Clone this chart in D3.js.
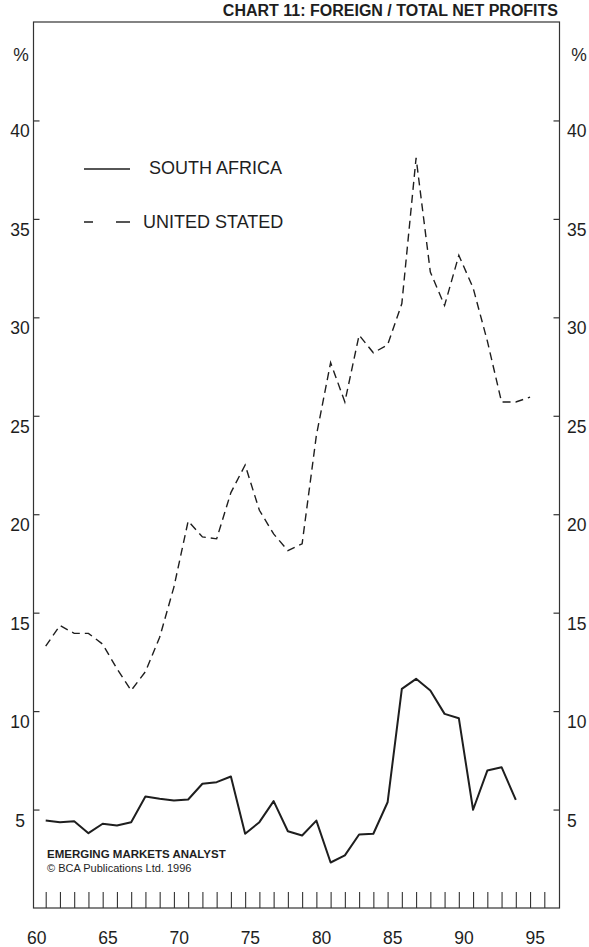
<!DOCTYPE html>
<html><head><meta charset="utf-8">
<script src="https://cdn.jsdelivr.net/npm/d3@7"></script>
<style>
body{margin:0;background:#fff}
svg{display:block}
text{font-family:"Liberation Sans",Arial,Helvetica,sans-serif;fill:#1e1e1e}
</style></head>
<body><svg id="chart" width="589" height="947"></svg>
<script>
// ---- data ----
const titleText = "CHART 11: FOREIGN / TOTAL NET PROFITS";
const seriesNames = ["SOUTH AFRICA", "UNITED STATED"];
const years = [1960,1961,1962,1963,1964,1965,1966,1967,1968,1969,
               1970,1971,1972,1973,1974,1975,1976,1977,1978,1979,
               1980,1981,1982,1983,1984,1985,1986,1987,1988,1989,
               1990,1991,1992,1993,1994];
const usValues = [13.3,14.35,13.95,13.95,13.4,12.15,11.05,12.0,13.75,16.3,
                  19.65,18.85,18.75,21.1,22.5,20.2,19.0,18.15,18.5,24.0,
                  27.7,25.7,29.1,28.2,28.6,30.7,38.1,32.3,30.6,33.15,
                  31.5,28.8,25.7,25.7,25.95];
const saValues = [4.44,4.36,4.41,3.80,4.28,4.19,4.36,5.66,5.55,5.46,
                  5.51,6.31,6.39,6.68,3.77,4.36,5.43,3.90,3.68,4.44,
                  2.31,2.67,3.73,3.77,5.37,11.13,11.64,11.05,9.86,9.64,
                  4.99,6.98,7.15,5.49];
const yTickValues = [5,10,15,20,25,30,35,40];
const xTickYears = [1960,1961,1962,1963,1964,1965,1966,1967,1968,1969,
                    1970,1971,1972,1973,1974,1975,1976,1977,1978,1979,
                    1980,1981,1982,1983,1984,1985,1986,1987,1988,1989,
                    1990,1991,1992,1993,1994,1995];
const xLabelYears = [1960,1965,1970,1975,1980,1985,1990,1995];
const unitLabel = "%";
const sourceLines = ["EMERGING MARKETS ANALYST", "\u00A9 BCA Publications Ltd. 1996"];

// ---- layout ----
const svg = d3.select("#chart");
const frame = {left: 33.5, right: 559.5, top: 22, bottom: 908};
const x = d3.scaleLinear().domain([1960, 1995]).range([45.7, 544.3]);
const y = d3.scaleLinear().domain([0, 45]).range([908, 22]);
const ink = "#1e1e1e";

// title (kept fully visible above the frame)
svg.append("text").attr("x", 558).attr("y", 16).attr("text-anchor", "end")
  .attr("font-size", 16).attr("font-weight", "bold").text(titleText);

// frame
svg.append("rect").attr("x", frame.left).attr("y", frame.top)
  .attr("width", frame.right - frame.left).attr("height", frame.bottom - frame.top)
  .attr("fill", "none").attr("stroke", "#333").attr("stroke-width", 1.2);

// left axis ticks (inward)
const leftAxis = svg.append("g").attr("transform", `translate(${frame.left},0)`)
  .call(d3.axisRight(y).tickValues(yTickValues).tickSize(6).tickFormat(""));
leftAxis.select(".domain").remove();
leftAxis.selectAll("line").attr("stroke", "#333").attr("stroke-width", 1.2);

// right axis ticks (inward)
const rightAxis = svg.append("g").attr("transform", `translate(${frame.right},0)`)
  .call(d3.axisLeft(y).tickValues(yTickValues).tickSize(6).tickFormat(""));
rightAxis.select(".domain").remove();
rightAxis.selectAll("line").attr("stroke", "#333").attr("stroke-width", 1.2);

// bottom axis ticks (upward)
const bottomAxis = svg.append("g").attr("transform", `translate(0,${frame.bottom})`)
  .call(d3.axisTop(x).tickValues(xTickYears).tickSize(16).tickFormat(""));
bottomAxis.select(".domain").remove();
bottomAxis.selectAll("line").attr("stroke", "#333").attr("stroke-width", 1.1);

// y labels
svg.selectAll(".ylabL").data(yTickValues).join("text").attr("class", "ylabL")
  .attr("x", 20).attr("y", d => y(d) + 17).attr("text-anchor", "middle")
  .attr("font-size", 17.5).text(d => d);
svg.selectAll(".ylabR").data(yTickValues).join("text").attr("class", "ylabR")
  .attr("x", 567).attr("y", d => y(d) + 17).attr("text-anchor", "start")
  .attr("font-size", 17.5).text(d => d);
svg.append("text").attr("x", 21).attr("y", 61).attr("text-anchor", "middle")
  .attr("font-size", 17.5).text(unitLabel);
svg.append("text").attr("x", 579).attr("y", 61).attr("text-anchor", "middle")
  .attr("font-size", 17.5).text(unitLabel);

// x labels
svg.selectAll(".xlab").data(xLabelYears).join("text").attr("class", "xlab")
  .attr("x", d => x(d) - 9).attr("y", 944).attr("text-anchor", "middle")
  .attr("font-size", 17.5).text(d => String(d % 100).padStart(2, "0"));

// lines
const line = d3.line().x((d, i) => x(years[i])).y(d => y(d));
svg.append("path").datum(usValues).attr("d", line).attr("fill", "none")
  .attr("stroke", ink).attr("stroke-width", 1.4).attr("stroke-dasharray", "8,5");
svg.append("path").datum(saValues).attr("d", line).attr("fill", "none")
  .attr("stroke", ink).attr("stroke-width", 2).attr("stroke-linejoin", "round");

// legend
svg.append("line").attr("x1", 84).attr("x2", 130).attr("y1", 169).attr("y2", 169)
  .attr("stroke", ink).attr("stroke-width", 1.6);
svg.append("text").attr("x", 149).attr("y", 174).attr("font-size", 18).text(seriesNames[0]);
svg.append("line").attr("x1", 84).attr("x2", 130).attr("y1", 222).attr("y2", 222)
  .attr("stroke", ink).attr("stroke-width", 1.4).attr("stroke-dasharray", "9,23,14");
svg.append("text").attr("x", 143).attr("y", 227.5).attr("font-size", 18).text(seriesNames[1]);

// source
svg.append("text").attr("x", 47).attr("y", 858).attr("font-size", 11.5)
  .attr("font-weight", "bold").text(sourceLines[0]);
svg.append("text").attr("x", 47).attr("y", 871.5).attr("font-size", 11)
  .text(sourceLines[1]);
</script></body></html>
